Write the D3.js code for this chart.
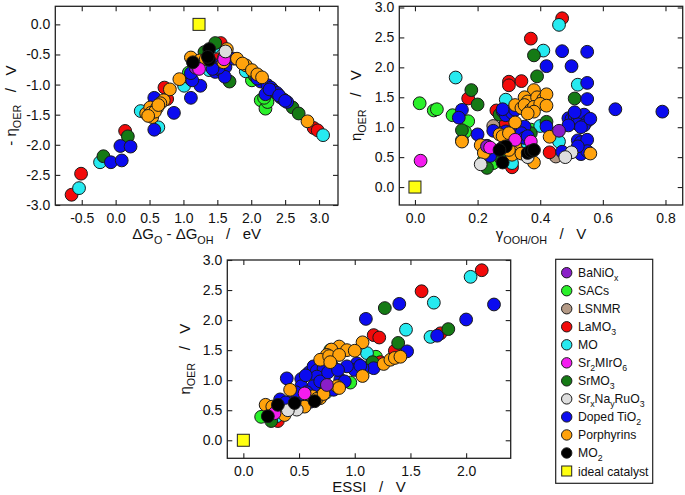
<!DOCTYPE html>
<html><head><meta charset="utf-8">
<script src="https://cdn.jsdelivr.net/npm/d3@7"></script>
<style>
html,body{margin:0;padding:0;background:#fff;}
svg text{font-family:"Liberation Sans",Arial,Helvetica,sans-serif;fill:#111;}
</style></head>
<body><svg id="c" width="685" height="495"></svg>
<script>
// ---------- series ----------
const seriesKeys = ["BaNiOx","SACs","LSNMR","LaMO3","MO","Sr2MIrO6","SrMO3","SrNaRuO3","TiO2","Porph","MO2","ideal"];
const seriesLabels = ["BaNiO_{x}","SACs","LSNMR","LaMO_{3}","MO","Sr_{2}MIrO_{6}","SrMO_{3}","Sr_{x}Na_{y}RuO_{3}","Doped TiO_{2}","Porphyrins","MO_{2}","ideal catalyst"];
const seriesColors = ["#8a1ec8","#2af02a","#b49a86","#f20a0a","#26eaf0","#f41cf0","#157a15","#dedede","#0b0bef","#ffa20c","#000000","#ffff10"];
const drawOrder = ["SACs","LSNMR","LaMO3","MO","SrMO3","TiO2","Porph","BaNiOx","Sr2MIrO6","SrNaRuO3","MO2","ideal"];

// ---------- tick labels ----------
const ticksAx = [-0.5,0.0,0.5,1.0,1.5,2.0,2.5,3.0];
const ticksAy = [-3.0,-2.5,-2.0,-1.5,-1.0,-0.5,0.0];
const ticksBx = [0.0,0.2,0.4,0.6,0.8];
const ticksBy = [0.0,0.5,1.0,1.5,2.0,2.5,3.0];
const ticksCx = [0.0,0.5,1.0,1.5,2.0];
const ticksCy = [0.0,0.5,1.0,1.5,2.0,2.5,3.0];

// ---------- panel A: ΔGO-ΔGOH vs -η ----------
const volcanoPoints = [
 ["LaMO3",-0.65,-2.83],["LaMO3",-0.51,-2.48],["LaMO3",0.14,-1.77],["LaMO3",0.72,-1.05],["LaMO3",0.76,-1.24],["LaMO3",1.55,-0.31],["LaMO3",1.51,-0.58],["LaMO3",2.92,-1.72],["LaMO3",2.98,-1.76],
 ["MO",-0.54,-2.72],["MO",-0.23,-2.29],["MO",0.37,-1.44],["MO",0.63,-1.71],["MO",1.01,-1.02],["MO",1.38,-0.76],["MO",1.45,-0.37],["MO",3.06,-1.84],["MO",1.92,-0.78],["MO",1.60,-0.55],
 ["SrMO3",-0.18,-2.19],["SrMO3",0.18,-1.86],["SrMO3",1.11,-0.91],["SrMO3",1.31,-0.46],["SrMO3",1.47,-0.31],["SrMO3",1.68,-0.95],["SrMO3",2.61,-1.38],["SrMO3",2.70,-1.48],["SrMO3",2.05,-0.85],
 ["SACs",2.14,-1.26],["SACs",2.21,-1.40],["SACs",2.24,-1.29],["SACs",2.01,-0.93],["SACs",2.19,-1.22],["SACs",1.08,-0.80],
 ["TiO2",-0.07,-2.29],["TiO2",0.09,-2.26],["TiO2",0.07,-2.02],["TiO2",0.22,-2.03],["TiO2",0.57,-1.22],["TiO2",0.57,-1.75],["TiO2",0.86,-1.47],["TiO2",1.11,-1.22],["TiO2",1.25,-1.02],["TiO2",1.13,-0.93],["TiO2",1.11,-0.81],["TiO2",1.47,-0.68],["TiO2",1.47,-0.79],["TiO2",1.55,-0.76],["TiO2",1.62,-0.71],["TiO2",1.61,-0.87],["TiO2",1.74,-0.57],["TiO2",2.14,-0.95],["TiO2",2.24,-1.01],["TiO2",2.21,-1.16],["TiO2",2.29,-1.05],["TiO2",2.33,-1.10],["TiO2",2.38,-1.14],["TiO2",2.43,-1.21],["TiO2",2.48,-1.25],["TiO2",2.53,-1.29],["TiO2",2.09,-0.90],["TiO2",2.27,-1.08],["TiO2",2.41,-1.18],["TiO2",2.50,-1.27],["TiO2",1.52,-0.72],["TiO2",1.43,-0.74],
 ["Porph",0.94,-0.91],["Porph",1.11,-0.55],["Porph",1.24,-0.60],["Porph",0.80,-1.08],["Porph",0.71,-1.26],["Porph",0.45,-1.48],["Porph",0.51,-1.38],["Porph",0.54,-1.54],["Porph",0.61,-1.39],["Porph",0.66,-1.31],["Porph",0.52,-1.47],["Porph",0.58,-1.45],["Porph",0.48,-1.52],["Porph",0.63,-1.34],["Porph",1.64,-0.41],["Porph",1.59,-0.63],["Porph",1.79,-0.57],["Porph",1.92,-0.68],["Porph",1.87,-0.65],["Porph",2.01,-0.76],["Porph",2.09,-0.83],["Porph",2.16,-0.88],["Porph",2.83,-1.61],["Porph",1.33,-0.58],
 ["MO2",1.14,-0.63],["MO2",1.38,-0.41],["MO2",1.38,-0.59],["MO2",1.36,-0.54],
 ["Sr2MIrO6",1.23,-0.74],["Sr2MIrO6",1.60,-0.58],
 ["BaNiOx",1.18,-0.72],["LSNMR",1.30,-0.62],["SrNaRuO3",1.62,-0.45],
 ["ideal",1.23,0.0]
];

// ---------- panel B: γOOH/OH vs η ----------
const gammaPoints = [
 ["LaMO3",0.47,2.82],["LaMO3",0.37,2.48],["LaMO3",0.30,1.76],["LaMO3",0.30,1.70],["LaMO3",0.34,1.77],["LaMO3",0.17,1.48],["LaMO3",0.26,1.28],["LaMO3",0.29,1.07],["LaMO3",0.43,0.58],["LaMO3",0.31,0.33],
 ["MO",0.46,2.71],["MO",0.41,2.28],["MO",0.13,1.83],["MO",0.52,1.71],["MO",0.29,1.46],["MO",0.46,0.76],["MO",0.40,1.02],["MO",0.36,0.73],["MO",0.31,0.40],["MO",0.15,0.78],
 ["SrMO3",0.38,2.20],["SrMO3",0.39,1.85],["SrMO3",0.18,1.62],["SrMO3",0.20,1.38],["SrMO3",0.51,1.48],["SrMO3",0.27,1.21],["SrMO3",0.15,0.95],["SrMO3",0.42,1.09],["SrMO3",0.23,0.32],["SrMO3",0.27,0.51],["SrMO3",0.37,0.90],["SrMO3",0.25,0.60],
 ["SACs",0.015,1.40],["SACs",0.06,1.28],["SACs",0.07,1.30],["SACs",0.12,1.20],["SACs",0.17,1.10],["SACs",0.16,0.92],["SACs",0.25,0.40],["SACs",0.27,0.57],["SACs",0.37,0.96],["SACs",0.22,0.45],
 ["TiO2",0.47,2.27],["TiO2",0.55,2.26],["TiO2",0.42,2.02],["TiO2",0.50,2.02],["TiO2",0.55,1.74],["TiO2",0.55,1.47],["TiO2",0.15,1.29],["TiO2",0.14,1.16],["TiO2",0.20,0.88],["TiO2",0.23,0.69],["TiO2",0.24,0.52],["TiO2",0.64,1.30],["TiO2",0.79,1.26],["TiO2",0.49,1.15],["TiO2",0.50,1.14],["TiO2",0.51,1.19],["TiO2",0.52,1.12],["TiO2",0.53,1.17],["TiO2",0.54,1.21],["TiO2",0.55,1.10],["TiO2",0.52,1.05],["TiO2",0.54,1.03],["TiO2",0.56,1.14],["TiO2",0.49,1.03],["TiO2",0.53,1.00],["TiO2",0.51,1.25],["TiO2",0.52,0.78],["TiO2",0.53,0.75],["TiO2",0.54,0.69],["TiO2",0.55,0.79],["TiO2",0.53,0.55],["TiO2",0.55,0.60],["TiO2",0.52,0.68],["TiO2",0.47,0.59],["TiO2",0.42,1.01],["TiO2",0.28,1.27],["TiO2",0.29,1.20],["TiO2",0.31,1.24],["TiO2",0.32,1.29],["TiO2",0.28,1.30],["TiO2",0.25,0.94],["TiO2",0.29,0.93],["TiO2",0.32,0.91],["TiO2",0.35,1.01],["TiO2",0.34,0.90],["TiO2",0.35,0.82],["TiO2",0.36,0.85],
 ["Porph",0.38,1.62],["Porph",0.35,1.50],["Porph",0.36,1.43],["Porph",0.39,1.50],["Porph",0.41,1.47],["Porph",0.42,1.55],["Porph",0.32,1.37],["Porph",0.34,1.32],["Porph",0.35,1.37],["Porph",0.37,1.29],["Porph",0.38,1.34],["Porph",0.40,1.39],["Porph",0.42,1.36],["Porph",0.38,1.26],["Porph",0.36,1.23],["Porph",0.32,1.08],["Porph",0.27,0.88],["Porph",0.28,0.85],["Porph",0.30,0.90],["Porph",0.32,0.68],["Porph",0.31,0.59],["Porph",0.29,0.65],["Porph",0.31,0.54],["Porph",0.38,0.41],["Porph",0.43,0.84],["Porph",0.56,0.56],["Porph",0.15,0.76],["Porph",0.21,0.70],["Porph",0.22,0.57],["Porph",0.34,0.56],["Porph",0.30,0.62],
 ["MO2",0.28,0.66],["MO2",0.29,0.68],["MO2",0.28,0.41],["MO2",0.36,0.57],["MO2",0.37,0.60],["MO2",0.38,0.62],["MO2",0.27,0.62],
 ["Sr2MIrO6",0.018,0.44],["Sr2MIrO6",0.32,0.79],["Sr2MIrO6",0.37,0.76],["Sr2MIrO6",0.24,0.66],
 ["BaNiOx",0.46,0.94],["BaNiOx",0.23,0.68],
 ["LSNMR",0.45,0.51],["LSNMR",0.25,1.02],
 ["SrNaRuO3",0.50,0.58],["SrNaRuO3",0.48,0.50],["SrNaRuO3",0.21,0.38],["SrNaRuO3",0.36,0.50],
 ["ideal",0.0,0.0]
];

// ---------- panel C: ESSI vs η ----------
const essiPoints = [
 ["LaMO3",2.14,2.83],["LaMO3",1.60,2.48],["LaMO3",1.77,1.78],["LaMO3",1.17,1.75],["LaMO3",1.22,1.71],["LaMO3",1.36,1.49],["LaMO3",1.23,1.30],["LaMO3",0.31,0.32],
 ["MO",2.04,2.72],["MO",1.71,2.29],["MO",1.46,1.84],["MO",1.68,1.72],["MO",1.11,1.45],["MO",0.74,0.79],["MO",0.30,0.40],["MO",0.62,0.76],
 ["SrMO3",1.27,2.20],["SrMO3",1.84,1.85],["SrMO3",1.39,1.62],["SrMO3",0.70,0.95],["SrMO3",0.25,0.32],["SrMO3",1.16,1.30],["SrMO3",0.58,0.75],
 ["SACs",1.19,1.39],["SACs",0.78,1.50],["SACs",0.96,0.96],["SACs",0.16,0.39],["SACs",1.12,1.22],["SACs",0.72,1.10],
 ["TiO2",2.25,2.26],["TiO2",1.40,2.27],["TiO2",1.10,2.02],["TiO2",2.00,2.01],["TiO2",1.74,1.74],["TiO2",1.47,1.48],["TiO2",1.17,1.20],["TiO2",1.07,1.20],["TiO2",1.02,1.28],["TiO2",1.00,1.17],["TiO2",1.05,1.24],["TiO2",0.39,1.03],["TiO2",0.52,1.02],["TiO2",0.59,1.13],["TiO2",0.63,1.23],["TiO2",0.66,1.16],["TiO2",0.72,1.20],["TiO2",0.79,1.26],["TiO2",0.93,1.23],["TiO2",0.66,1.06],["TiO2",0.52,0.90],["TiO2",0.63,0.90],["TiO2",0.69,0.98],["TiO2",0.87,1.01],["TiO2",0.91,0.98],["TiO2",0.81,0.84],["TiO2",0.33,0.68],["TiO2",0.45,0.73],["TiO2",0.52,0.70],["TiO2",0.42,0.59],["TiO2",0.51,0.56],["TiO2",0.57,0.80],["TiO2",0.47,0.80],["TiO2",0.56,1.08],["TiO2",0.76,1.13],["TiO2",0.85,1.17],["TiO2",0.60,0.64],["TiO2",0.38,0.63],
 ["Porph",1.07,1.63],["Porph",1.26,1.27],["Porph",1.32,1.34],["Porph",1.36,1.37],["Porph",1.41,1.39],["Porph",1.07,1.07],["Porph",0.86,1.56],["Porph",0.93,1.50],["Porph",1.00,1.49],["Porph",0.79,1.51],["Porph",0.75,1.42],["Porph",0.69,1.34],["Porph",0.77,1.40],["Porph",0.86,1.42],["Porph",0.78,1.30],["Porph",0.42,0.84],["Porph",0.84,0.90],["Porph",0.86,0.87],["Porph",0.62,0.73],["Porph",0.69,0.70],["Porph",0.20,0.59],["Porph",0.26,0.56],["Porph",0.55,0.56],["Porph",0.37,0.42],["Porph",0.66,0.69],["Porph",0.72,0.77],
 ["MO2",0.31,0.59],["MO2",0.22,0.40],["MO2",0.46,0.62],["MO2",0.64,0.65],
 ["Sr2MIrO6",0.28,0.45],["Sr2MIrO6",0.55,0.78],
 ["BaNiOx",0.75,0.92],["LSNMR",0.35,0.47],
 ["SrNaRuO3",0.48,0.51],["SrNaRuO3",0.40,0.50],
 ["ideal",0.0,0.0]
];

// ---------- drawing ----------
const svg = d3.select("#c");
const colorOf = d3.scaleOrdinal().domain(seriesKeys).range(seriesColors);
const fmt = v => v.toFixed(1);

function richText(sel, str, fs){
  // str with _{sub}
  const parts = str.split(/(_\{[^}]*\})/).filter(s=>s.length);
  let back = 0;
  parts.forEach(p=>{
    if(p.startsWith("_{")){
      sel.append("tspan").attr("font-size", fs*0.72).attr("dy", fs*0.3 - back).text(p.slice(2,-1));
      back = fs*0.3;
    } else {
      const t = sel.append("tspan").text(p);
      if(back){ t.attr("dy", -back); back = 0; }
    }
  });
}

function panel(cfg){
  const x = d3.scaleLinear().domain(cfg.xd).range(cfg.xr);
  const y = d3.scaleLinear().domain(cfg.yd).range(cfg.yr);
  const g = svg.append("g");
  const T = 5;
  const ax = (axis, tr) => {
    const a = g.append("g").attr("transform", tr).call(axis);
    a.select(".domain").remove();
    a.selectAll("line").attr("stroke","#222").attr("stroke-width",1.1);
    a.selectAll("text").attr("font-size",14).attr("fill","#111").style("font-family",'"Liberation Sans",Arial,sans-serif');
    return a;
  };
  ax(d3.axisBottom(x).tickValues(cfg.tx).tickFormat(fmt).tickSize(-T).tickPadding(8), `translate(0,${cfg.yr[0]})`);
  ax(d3.axisTop(x).tickValues(cfg.tx).tickFormat(() => null).tickSize(-T), `translate(0,${cfg.yr[1]})`);
  ax(d3.axisLeft(y).tickValues(cfg.ty).tickFormat(fmt).tickSize(-T).tickPadding(5), `translate(${cfg.xr[0]},0)`);
  ax(d3.axisRight(y).tickValues(cfg.ty).tickFormat(() => null).tickSize(-T), `translate(${cfg.xr[1]},0)`);
  g.selectAll("g.tick text").filter(function(){ return !this.textContent; }).remove();

  const pts = cfg.data.map(d=>({k:d[0],x:d[1],y:d[2]}))
    .sort((a,b)=>drawOrder.indexOf(a.k)-drawOrder.indexOf(b.k));
  const clip = "clip"+cfg.id;
  svg.append("clipPath").attr("id",clip).append("rect")
    .attr("x",cfg.xr[0]).attr("y",cfg.yr[1]).attr("width",cfg.xr[1]-cfg.xr[0]).attr("height",cfg.yr[0]-cfg.yr[1]);
  const m = g.append("g").attr("clip-path",`url(#${clip})`);
  m.selectAll("circle").data(pts.filter(p=>p.k!=="ideal")).join("circle")
    .attr("cx",d=>x(d.x)).attr("cy",d=>y(d.y)).attr("r",6.4)
    .attr("fill",d=>colorOf(d.k)).attr("stroke","#1a1a1a").attr("stroke-width",1);
  m.selectAll("rect.ideal").data(pts.filter(p=>p.k==="ideal")).join("rect").attr("class","ideal")
    .attr("x",d=>x(d.x)-6).attr("y",d=>y(d.y)-6).attr("width",12).attr("height",12)
    .attr("fill",colorOf("ideal")).attr("stroke","#222").attr("stroke-width",1);

  g.append("rect").attr("x",cfg.xr[0]).attr("y",cfg.yr[1])
    .attr("width",cfg.xr[1]-cfg.xr[0]).attr("height",cfg.yr[0]-cfg.yr[1])
    .attr("fill","none").attr("stroke","#222").attr("stroke-width",1.3);

  // axis titles
  const xt = g.append("text").attr("x",(cfg.xr[0]+cfg.xr[1])/2).attr("y",cfg.xty)
    .attr("text-anchor","middle").attr("font-size",15).style("white-space","pre");
  richText(xt, cfg.xlabel, 15);
  const yc = (cfg.yr[0]+cfg.yr[1])/2;
  const yt = g.append("text").attr("transform",`translate(${cfg.ytx},${yc}) rotate(-90)`)
    .attr("text-anchor","middle").attr("font-size",15).style("white-space","pre");
  richText(yt, cfg.ylabel, 15);
}

panel({id:"A", xd:[-0.89,3.28], xr:[55.3,338], yd:[-3.0,0.3], yr:[205,6.3], tx:ticksAx, ty:ticksAy,
  data:volcanoPoints, xlabel:"\u0394G_{O} - \u0394G_{OH}   /   eV", xty:239, ylabel:"- \u03B7_{OER}   /   V", ytx:16});
panel({id:"B", xd:[-0.05,0.855], xr:[399.3,682.7], yd:[-0.3,3.02], yr:[205,6.3], tx:ticksBx, ty:ticksBy,
  data:gammaPoints, xlabel:"\u03B3_{OOH/OH}   /   V", xty:239, ylabel:"\u03B7_{OER}   /   V", ytx:361});
panel({id:"C", xd:[-0.144,2.4], xr:[227.3,510.7], yd:[-0.3,3.0], yr:[458.3,260], tx:ticksCx, ty:ticksCy,
  data:essiPoints, xlabel:"ESSI   /   V", xty:492, ylabel:"\u03B7_{OER}   /   V", ytx:190});

// legend
const lg = svg.append("g");
lg.append("rect").attr("x",555.7).attr("y",259.3).attr("width",97).attr("height",224)
  .attr("fill","#fff").attr("stroke","#222").attr("stroke-width",1.2);
const ly = d3.scalePoint().domain(seriesKeys).range([272.7,471]);
seriesKeys.forEach((k,i)=>{
  const yy = ly(k);
  if(k==="ideal"){
    lg.append("rect").attr("x",566.7-5).attr("y",yy-5).attr("width",10).attr("height",10)
      .attr("fill",colorOf(k)).attr("stroke","#222").attr("stroke-width",1);
  } else {
    lg.append("circle").attr("cx",566.7).attr("cy",yy).attr("r",5.2)
      .attr("fill",colorOf(k)).attr("stroke","#1a1a1a").attr("stroke-width",1);
  }
  const t = lg.append("text").attr("x",578).attr("y",yy+4.5).attr("font-size",12.2);
  richText(t, seriesLabels[i], 12.2);
});
</script></body></html>
